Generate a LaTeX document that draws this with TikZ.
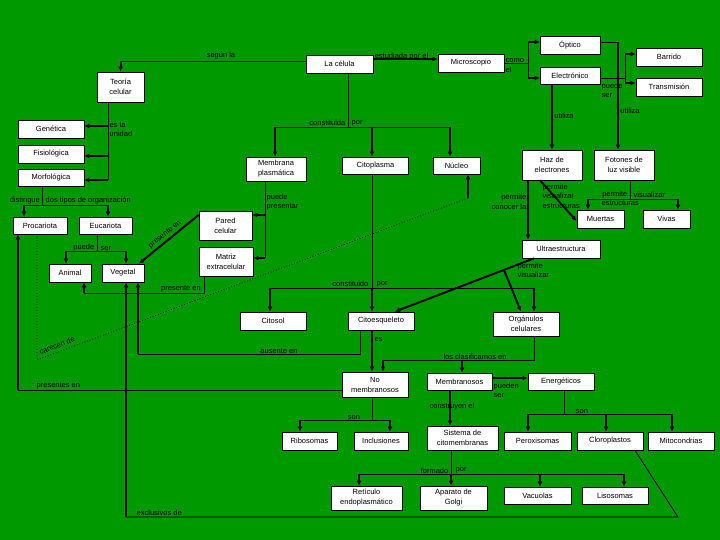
\documentclass[tikz,border=0pt]{standalone}
\usepackage{fontspec}
\setmainfont{Liberation Sans}
\usepackage{tikz}
\usetikzlibrary{arrows.meta}
\usetikzlibrary{calc}
\definecolor{fondo}{RGB}{0,153,0}

\begin{document}
\begin{tikzpicture}[x=1pt, y=-1pt,
    box/.style={draw, fill=white, line width=0.8pt, align=center, inner sep=1pt, font=\fontsize{7.5}{10}\selectfont},
    lbl/.style={inner sep=0.5pt, font=\fontsize{7.5}{9.5}\selectfont},
    feed/.style={line width=0.9pt},
    arr/.style={line width=2pt, -{Latex[length=5pt, width=5pt]}},
    carece/.style={line width=0.8pt, dotted}]
    \fill [fondo] (0,0) rectangle (720,540);
    \useasboundingbox (0,0) rectangle (720,540);

    \node [box, minimum width=67pt, minimum height=18pt] (celula) at (339.5,64) {La célula};
    \node [box, minimum width=47pt, minimum height=30pt] (teoria) at (120.5,87) {Teoría\\celular};
    \node [box, minimum width=66pt, minimum height=18pt] (micro) at (471,63) {Microscopio};
    \node [box, minimum width=60pt, minimum height=18pt] (optico) at (570,45) {Óptico};
    \node [box, minimum width=60pt, minimum height=17pt] (electronico) at (570,75.5) {Electrónico};
    \node [box, minimum width=66pt, minimum height=18pt] (barrido) at (669,57) {Barrido};
    \node [box, minimum width=66pt, minimum height=18pt] (transmision) at (669,87) {Transmisión};
    \node [box, minimum width=66pt, minimum height=18pt] (genetica) at (51,129) {Genética};
    \node [box, minimum width=66pt, minimum height=18pt] (fisiologica) at (51,154) {Fisiológica};
    \node [box, minimum width=66pt, minimum height=17pt] (morfologica) at (51,177.5) {Morfológica};
    \node [box, minimum width=60pt, minimum height=24pt] (membrana) at (276,169) {Membrana\\plasmática};
    \node [box, minimum width=66pt, minimum height=17pt] (citoplasma) at (375.5,165.5) {Citoplasma};
    \node [box, minimum width=47pt, minimum height=17pt] (nucleo) at (456.5,165.5) {Núcleo};
    \node [box, minimum width=60pt, minimum height=30pt] (haz) at (552,165) {Haz de\\electrones};
    \node [box, minimum width=60pt, minimum height=30pt] (fotones) at (624,165) {Fotones de\\luz visible};
    \node [box, minimum width=47pt, minimum height=18pt] (muertas) at (600.5,219) {Muertas};
    \node [box, minimum width=47pt, minimum height=18pt] (vivas) at (666.5,219) {Vivas};
    \node [box, minimum width=78pt, minimum height=18pt] (ultra) at (561,249) {Ultraestructura};
    \node [box, minimum width=54pt, minimum height=17pt] (procariota) at (40,225.5) {Procariota};
    \node [box, minimum width=53pt, minimum height=17pt] (eucariota) at (105.5,225.5) {Eucariota};
    \node [box, minimum width=42pt, minimum height=18pt] (animal) at (70,273) {Animal};
    \node [box, minimum width=42pt, minimum height=18pt] (vegetal) at (123,273) {Vegetal};
    \node [box, minimum width=53pt, minimum height=29pt] (pared) at (225.5,225.5) {Pared\\celular};
    \node [box, minimum width=54pt, minimum height=29pt] (matriz) at (226,261.5) {Matriz\\extracelular};
    \node [box, minimum width=66pt, minimum height=18pt] (citosol) at (273,321) {Citosol};
    \node [box, minimum width=66pt, minimum height=18pt] (citoesqueleto) at (381,321) {Citoesqueleto};
    \node [box, minimum width=66pt, minimum height=24pt] (organulos) at (526,324) {Orgánulos\\celulares};
    \node [box, minimum width=66pt, minimum height=25pt] (nomemb) at (375,384.5) {No\\membranosos};
    \node [box, minimum width=65pt, minimum height=17pt] (memb) at (459.5,381.5) {Membranosos};
    \node [box, minimum width=66pt, minimum height=17pt] (energeticos) at (561,381.5) {Energéticos};
    \node [box, minimum width=55pt, minimum height=18pt] (ribosomas) at (309.5,441) {Ribosomas};
    \node [box, minimum width=54pt, minimum height=18pt] (inclusiones) at (381,441) {Inclusiones};
    \node [box, minimum width=71pt, minimum height=24pt] (sistema) at (462.5,438) {Sistema de\\citomembranas};
    \node [box, minimum width=67pt, minimum height=18pt] (peroxisomas) at (537.5,441) {Peroxisomas};
    \node [box, minimum width=66pt, minimum height=18pt] (cloroplastos) at (610,441) {Cloroplastos};
    \node [box, minimum width=66pt, minimum height=18pt] (mitocondrias) at (681,441) {Mitocondrias};
    \node [box, minimum width=71pt, minimum height=24pt] (reticulo) at (366.5,498) {Retículo\\endoplasmático};
    \node [box, minimum width=67pt, minimum height=24pt] (golgi) at (453.5,498) {Aparato de\\Golgi};
    \node [box, minimum width=67pt, minimum height=17pt] (vacuolas) at (537.5,495.5) {Vacuolas};
    \node [box, minimum width=66pt, minimum height=17pt] (lisosomas) at (615,495.5) {Lisosomas};

    % la celula
    \draw [feed] (celula.west |- 0,61) -- (120.5,61);
    \draw [arr] (120.5,61) -- (teoria.north);
    \node [lbl, anchor=south] (lsegun) at (221,60) {según la};
    \draw [arr] (celula.east |- 0,59) -- (micro.west |- 0,59);
    \node [lbl, anchor=south] (lestudiada) at (401.5,60.5) {estudiada por el};
    \draw [feed] (celula.south -| 348,0) -- (348,127);
    \draw [feed] (275,127) -- (450,127);
    \foreach \n/\x in {membrana/275, citoplasma/372, nucleo/450}
      \draw [arr] (\x,127) -- (\n.north -| \x,0);
    \node [lbl, anchor=south east] (lconsta) at (346,126.5) {constituida};
    \node [lbl, anchor=south west] (lconstb) at (351,126.5) {por};

    % microscopio
    \draw [feed] (micro.east |- 0,63) -- (528,63);
    \draw [feed] (528,42) -- (528,78);
    \draw [arr] (528,42) -- (optico.west |- 0,42);
    \draw [arr] (528,78) -- (electronico.west |- 0,78);
    \node [lbl, anchor=north west, align=left] (lcomo) at (505,58) {como\\el};
    \draw [feed] (electronico.east |- 0,78) -- (625,78);
    \draw [feed] (625,54) -- (625,83);
    \draw [arr] (625,54) -- (barrido.west |- 0,54);
    \draw [arr] (625,83) -- (transmision.west |- 0,83);
    \node [lbl, anchor=north west, align=left] (lpuede) at (601,82) {puede\\ser};
    \draw [feed] (optico.east |- 0,42) -- (618,42);
    \draw [arr] (618,42) -- (fotones.north -| 618,0);
    \node [lbl] (lutilizaa) at (630,111) {utiliza};
    \draw [arr] (electronico.south -| 552,0) -- (haz.north -| 552,0);
    \node [lbl] (lutilizab) at (564,116) {utiliza};

    % haz y fotones
    \draw [arr] (haz.south -| 528,0) -- (ultra.north -| 528,0);
    \node [lbl, anchor=north east, align=right] (lconocer) at (527,193.5) {permite\\conocer la};
    \draw [arr] (haz.south -| 540,0) -- (muertas.west |- 0,221);
    \node [lbl, anchor=north west, align=left] (lvisual) at (542,183) {permite\\visualizar\\estructuras};
    \draw [feed] (fotones.south -| 630,0) -- (630,199);
    \draw [feed] (588,199) -- (678,199);
    \draw [arr] (588,199) -- (muertas.north -| 588,0);
    \draw [arr] (678,199) -- (vivas.north -| 678,0);
    \node [lbl, anchor=south east] (lfota) at (628,198.5) {permite};
    \node [lbl, anchor=south west] (lfotb) at (633,198.5) {visualizar};
    \node [lbl, anchor=north west] (lfotc) at (601,199.5) {estructuras};

    % ultraestructura
    \draw [arr] (ultra.south -| 534,0) -- (citoesqueleto.north -| 395,0);
    \coordinate (jultra) at ($(ultra.south -| 534,0)!0.216!(citoesqueleto.north -| 395,0)$);
    \draw [arr] (jultra) -- (organulos.north -| 521,0);
    \node [lbl, anchor=north west, align=left] (lultra) at (517,262) {permite\\visualizar};

    % teoria celular
    \draw [feed] (teoria.south -| 108,0) -- (108,180);
    \foreach \n/\y in {genetica/126, fisiologica/156, morfologica/180}
      \draw [arr] (108,\y) -- (\n.east |- 0,\y);
    \node [lbl, anchor=north west, align=left] (lunidad) at (109,121) {es la\\unidad};
    \draw [feed] (morfologica.south -| 42,0) -- (42,205);
    \draw [feed] (24,205) -- (108,205);
    \draw [arr] (24,205) -- (procariota.north -| 24,0);
    \draw [arr] (108,205) -- (eucariota.north -| 108,0);
    \node [lbl, anchor=south east] (ldistingue) at (40.5,204.5) {distingue};
    \node [lbl, anchor=south west] (ldos) at (45,204.5) {dos tipos de organización};
    \draw [feed] (eucariota.south -| 97,0) -- (97,251);
    \draw [feed] (66,251) -- (126,251);
    \draw [arr] (66,251) -- (animal.north -| 66,0);
    \draw [arr] (126,251) -- (vegetal.north -| 126,0);
    \node [lbl, anchor=south east] (lpuedea) at (95,251.5) {puede};
    \node [lbl, anchor=south west] (lpuedeb) at (100,251.5) {ser};

    % membrana
    \draw [feed] (membrana.south -| 265,0) -- (265,258);
    \draw [arr] (265,215) -- (pared.east |- 0,215);
    \draw [arr] (265,258) -- (matriz.east |- 0,258);
    \node [lbl, anchor=north west, align=left] (lpresentar) at (266,193) {puede\\presentar};
    \draw [arr] (pared.west |- 0,215) -- (vegetal.north -| 139,0);
    \node [lbl, rotate=38.7] (lpared) at (165,234.5) {presente en};
    \draw [feed] (matriz.south -| 204,0) -- (204,293) -- (84,293);
    \draw [arr] (84,293) -- (animal.south -| 84,0);
    \node [lbl, anchor=south] (lmatriz) at (181,293) {presente en};

    % procariota
    \draw [carece] (procariota.south -| 37,0) -- (37,360) -- (468,198);
    \node [lbl, rotate=20.6] (lcarecen) at (57,345.5) {carecen de};
    \draw [arr] (468,198) -- (nucleo.south -| 468,0);
    \draw [feed] (nomemb.west |- 0,390) -- (18,390);
    \draw [arr] (18,390) -- (procariota.south -| 18,0);
    \node [lbl, anchor=south west] (lpresentes) at (36,389.5) {presentes en};

    % citoplasma
    \draw [feed] (citoplasma.south -| 372,0) -- (372,288);
    \draw [feed] (270,288) -- (534,288);
    \foreach \n/\x in {citosol/270, citoesqueleto/372, organulos/534}
      \draw [arr] (\x,288) -- (\n.north -| \x,0);
    \node [lbl, anchor=south east] (lconstia) at (369,287.5) {constituido};
    \node [lbl, anchor=south west] (lconstib) at (376,287.5) {por};
    \draw [arr] (citoesqueleto.south -| 372,0) -- (nomemb.north -| 372,0);
    \node [lbl, anchor=west] (les) at (374,340) {es};
    \draw [feed] (citoesqueleto.south -| 360,0) -- (360,354) -- (138,354);
    \draw [arr] (138,354) -- (vegetal.south -| 138,0);
    \node [lbl, anchor=south] (lausente) at (279,354) {ausente en};

    % organulos
    \draw [feed] (organulos.south -| 534,0) -- (534,360) -- (383,360);
    \draw [arr] (383,360) -- (nomemb.north -| 383,0);
    \draw [arr] (462,360) -- (memb.north -| 462,0);
    \node [lbl, anchor=south] (lclasif) at (475,360) {los clasificamos en};
    \draw [arr] (memb.east |- 0,378) -- (energeticos.west |- 0,378);
    \node [lbl, anchor=north west, align=left] (lpueden) at (493,382) {pueden\\ser};
    \draw [arr] (memb.south -| 450,0) -- (sistema.north -| 450,0);
    \node [lbl] (lconstruyen) at (452,407) {construyen el};
    \draw [feed] (energeticos.south -| 564,0) -- (564,414);
    \draw [feed] (528,414) -- (672,414);
    \foreach \n/\x in {peroxisomas/528, cloroplastos/606, mitocondrias/672}
      \draw [arr] (\x,414) -- (\n.north -| \x,0);
    \node [lbl, anchor=south] (lsona) at (582,414) {son};
    \draw [feed] (nomemb.south -| 372,0) -- (372,420);
    \draw [feed] (300,420) -- (390,420);
    \draw [arr] (300,420) -- (ribosomas.north -| 300,0);
    \draw [arr] (390,420) -- (inclusiones.north -| 390,0);
    \node [lbl, anchor=south] (lsonb) at (354,420) {son};
    \draw [feed] (sistema.south -| 451,0) -- (451,474);
    \draw [feed] (359,474) -- (624,474);
    \foreach \n/\x in {reticulo/359, golgi/451, vacuolas/540, lisosomas/624}
      \draw [arr] (\x,474) -- (\n.north -| \x,0);
    \node [lbl, anchor=south east] (lformado) at (449,474) {formado};
    \node [lbl, anchor=south west] (lpor) at (455,474) {por};

    % exclusivos
    \draw [feed] (cloroplastos.south -| 635,0) -- (678,517) -- (126,517);
    \draw [arr] (126,517) -- (vegetal.south -| 126,0);
    \node [lbl, anchor=south west] (lexclusivos) at (136,516.5) {exclusivos de};
\end{tikzpicture}
\end{document}
